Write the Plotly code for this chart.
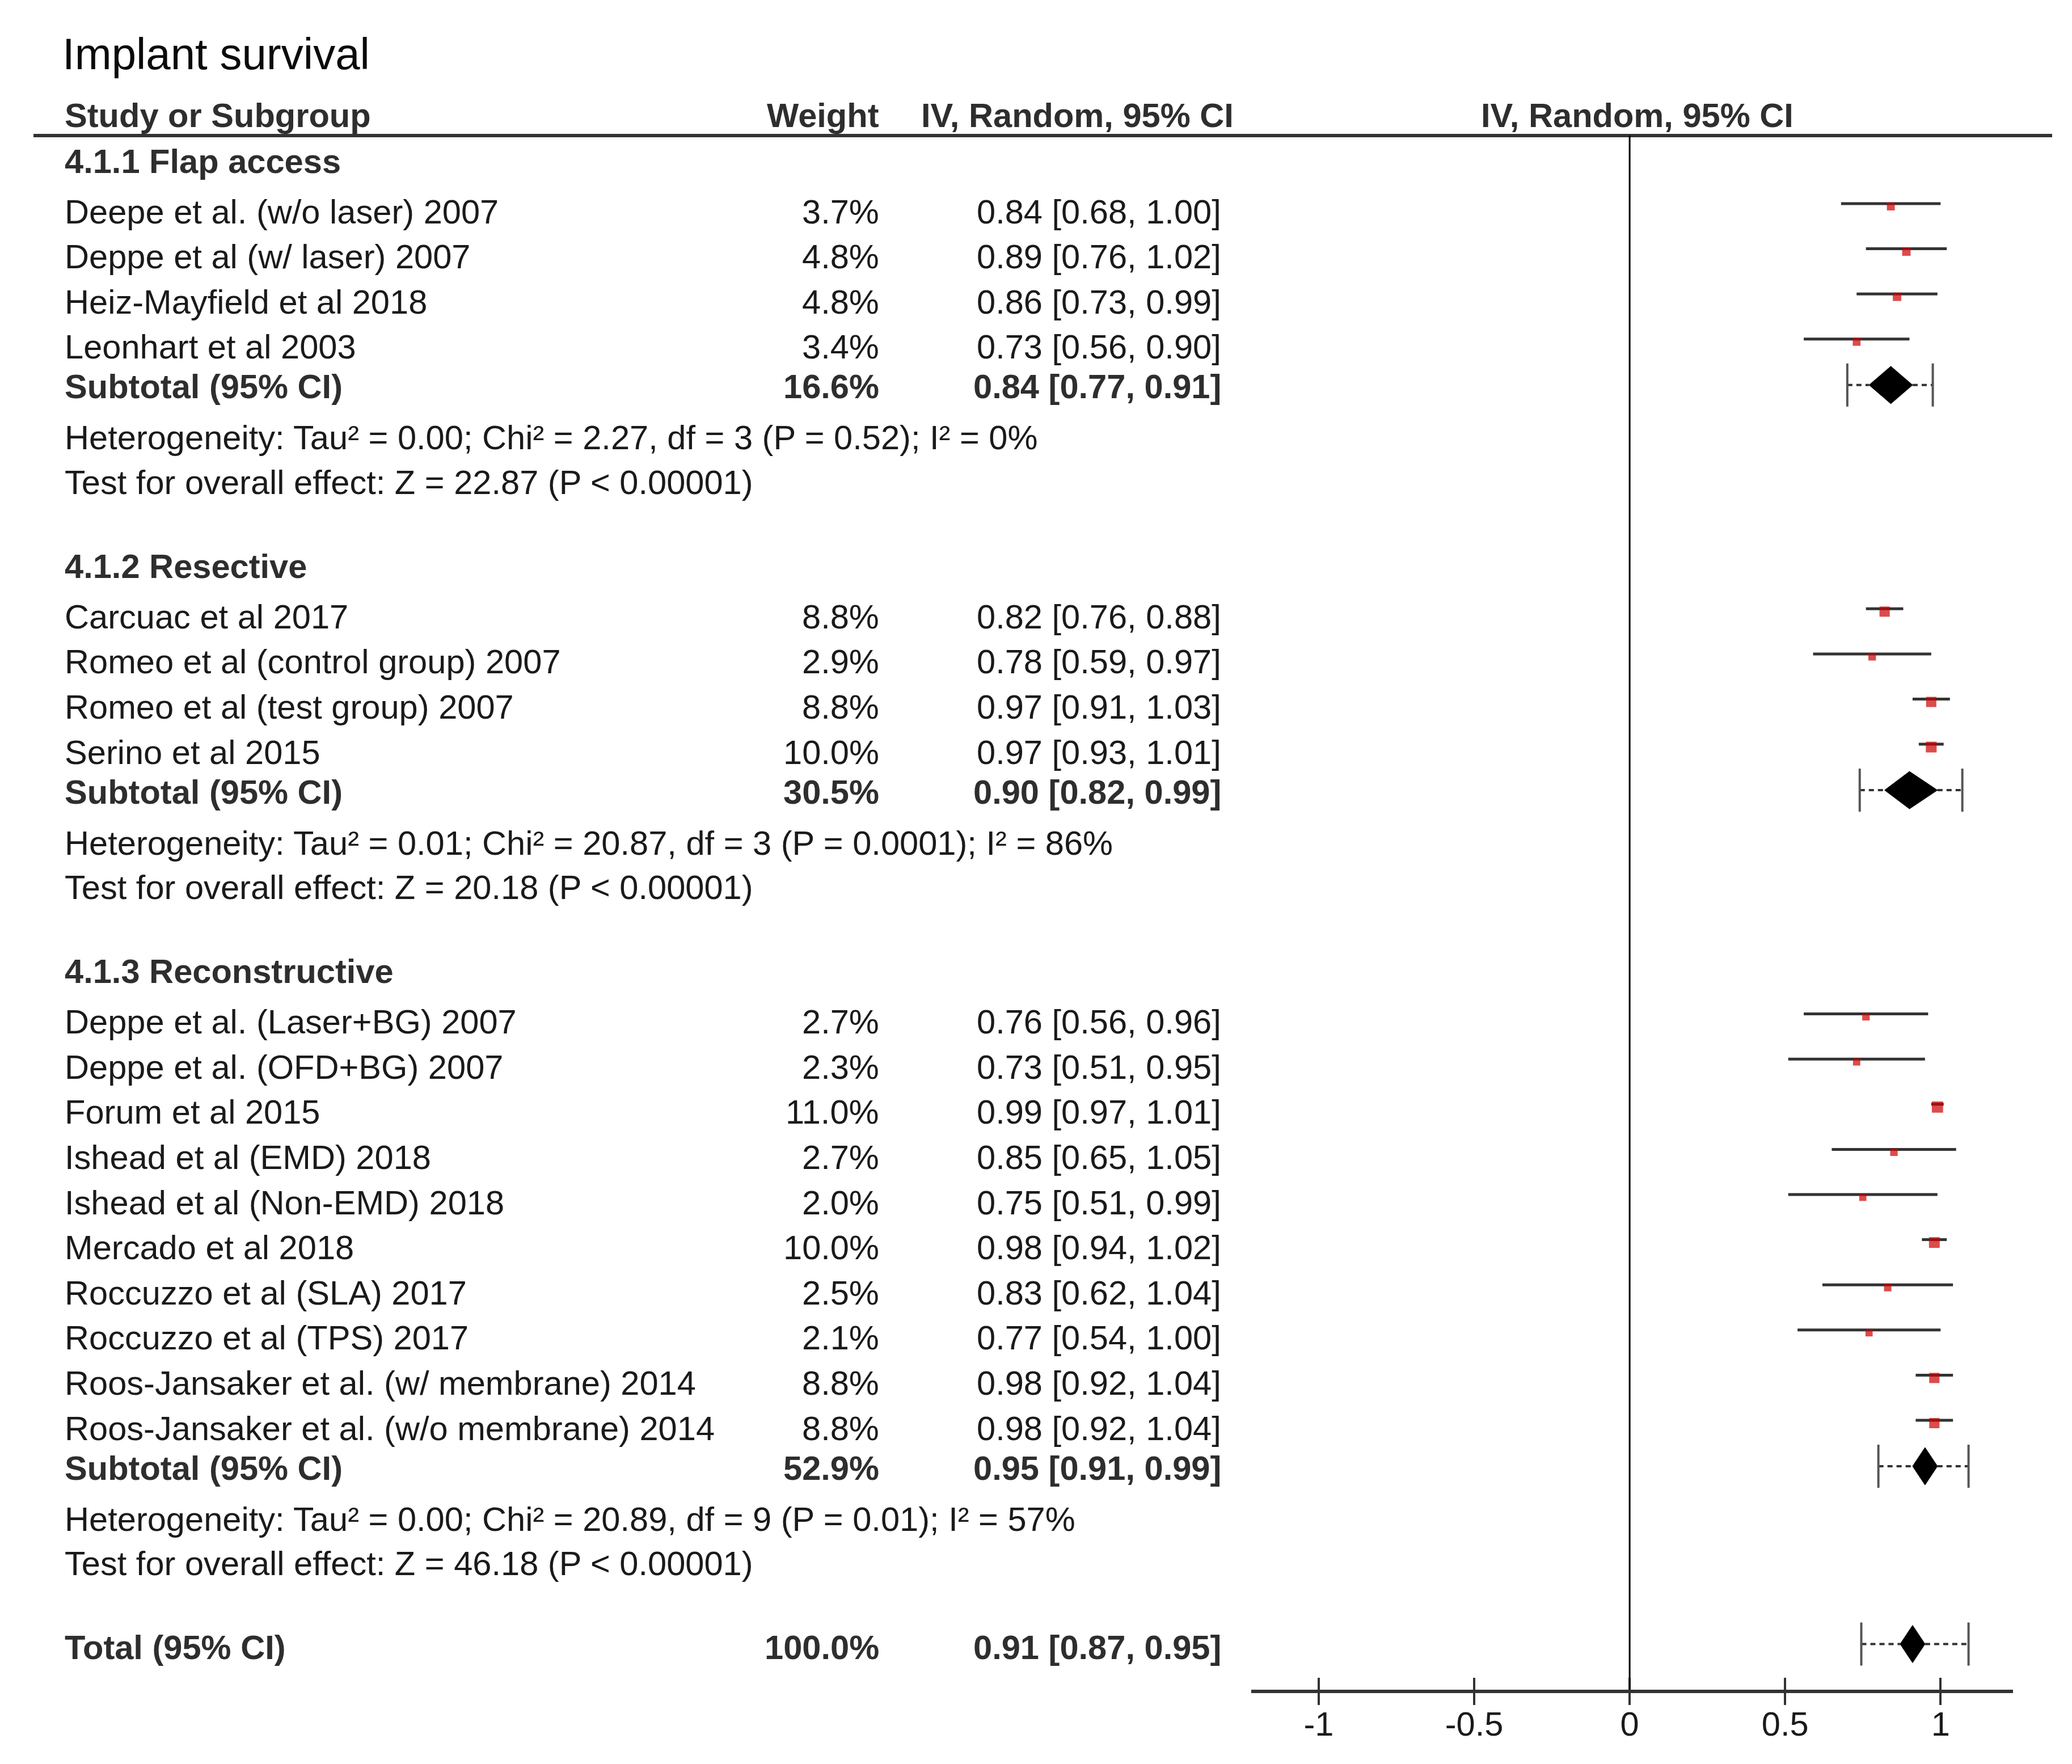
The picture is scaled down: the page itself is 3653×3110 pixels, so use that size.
import plotly.graph_objects as go

W, H = 3653, 3110

# ---------------- data ----------------
group_titles = ["4.1.1 Flap access", "4.1.2 Resective", "4.1.3 Reconstructive"]

study_names = [
    ["Deepe et al. (w/o laser) 2007", "Deppe et al (w/ laser) 2007",
     "Heiz-Mayfield et al 2018", "Leonhart et al 2003"],
    ["Carcuac et al 2017", "Romeo et al (control group) 2007",
     "Romeo et al (test group) 2007", "Serino et al 2015"],
    ["Deppe et al. (Laser+BG) 2007", "Deppe et al. (OFD+BG) 2007", "Forum et al 2015",
     "Ishead et al (EMD) 2018", "Ishead et al (Non-EMD) 2018", "Mercado et al 2018",
     "Roccuzzo et al (SLA) 2017", "Roccuzzo et al (TPS) 2017",
     "Roos-Jansaker et al. (w/ membrane) 2014", "Roos-Jansaker et al. (w/o membrane) 2014"],
]
study_weights = [
    [3.7, 4.8, 4.8, 3.4],
    [8.8, 2.9, 8.8, 10.0],
    [2.7, 2.3, 11.0, 2.7, 2.0, 10.0, 2.5, 2.1, 8.8, 8.8],
]
study_est = [
    [0.84, 0.89, 0.86, 0.73],
    [0.82, 0.78, 0.97, 0.97],
    [0.76, 0.73, 0.99, 0.85, 0.75, 0.98, 0.83, 0.77, 0.98, 0.98],
]
study_lo = [
    [0.68, 0.76, 0.73, 0.56],
    [0.76, 0.59, 0.91, 0.93],
    [0.56, 0.51, 0.97, 0.65, 0.51, 0.94, 0.62, 0.54, 0.92, 0.92],
]
study_hi = [
    [1.00, 1.02, 0.99, 0.90],
    [0.88, 0.97, 1.03, 1.01],
    [0.96, 0.95, 1.01, 1.05, 0.99, 1.02, 1.04, 1.00, 1.04, 1.04],
]

sub_weight = [16.6, 30.5, 52.9]
sub_est = [0.84, 0.90, 0.95]
sub_lo = [0.77, 0.82, 0.91]
sub_hi = [0.91, 0.99, 0.99]
sub_pi_lo = [0.70, 0.74, 0.80]
sub_pi_hi = [0.975, 1.07, 1.09]

het_text = [
    "Heterogeneity: Tau² = 0.00; Chi² = 2.27, df = 3 (P = 0.52); I² = 0%",
    "Heterogeneity: Tau² = 0.01; Chi² = 20.87, df = 3 (P = 0.0001); I² = 86%",
    "Heterogeneity: Tau² = 0.00; Chi² = 20.89, df = 9 (P = 0.01); I² = 57%",
]
test_text = [
    "Test for overall effect: Z = 22.87 (P < 0.00001)",
    "Test for overall effect: Z = 20.18 (P < 0.00001)",
    "Test for overall effect: Z = 46.18 (P < 0.00001)",
]

total_weight = 100.0
total_est, total_lo, total_hi = 0.91, 0.87, 0.95
total_pi_lo, total_pi_hi = 0.745, 1.09

tick_vals = [-1, -0.5, 0, 0.5, 1]
tick_text = ["-1", "-0.5", "0", "0.5", "1"]

# ---------------- layout constants (pixels) ----------------
FONT = "Liberation Sans"
FS = 59.6
TXT = "#1a1a1a"
BTXT = "#2e2e2e"
X_LABEL = 112
X_WEIGHT = 1552
X_CI = 2155
X_HEAD_CI = 1622
X_RIGHT_HEAD = 2886
Y_TITLE = 95
Y_HEAD = 203
Y_HLINE = 239
AXIS_Y = 2979
STUDY_OFF = -14      # CI line sits slightly above the text centre
SQ_DROP = 5          # squares hang slightly below the CI line
DIA_OFF = -3
DIA_H = 33
BAR_H = 38

fig = go.Figure()
ann = []


def add_text(txt, xpx, y, anchor="left", bold=False, size=FS, color=TXT):
    ann.append(dict(
        text=f"<b>{txt}</b>" if bold else txt,
        x=xpx / W, xref="paper", y=y, yref="y",
        xanchor=anchor, yanchor="middle", showarrow=False,
        font=dict(family=FONT, size=size, color=color),
    ))


def ci_str(e, l, h):
    return f"{e:.2f} [{l:.2f}, {h:.2f}]"


add_text("Implant survival", 108, Y_TITLE, size=78, color="#0a0a0a")
add_text("Study or Subgroup", X_LABEL, Y_HEAD, bold=True, color=BTXT)
add_text("Weight", X_WEIGHT, Y_HEAD, anchor="right", bold=True, color=BTXT)
add_text("IV, Random, 95% CI", X_HEAD_CI, Y_HEAD, bold=True, color=BTXT)
add_text("IV, Random, 95% CI", X_RIGHT_HEAD, Y_HEAD, anchor="center", bold=True, color=BTXT)

sx, sy, ssize, serr_p, serr_m = [], [], [], [], []
diamonds = []  # (y, est, lo, hi, pi_lo, pi_hi)

y = 284
for g in range(len(group_titles)):
    add_text(group_titles[g], X_LABEL, y, bold=True, color=BTXT)
    y += 89
    for i, name in enumerate(study_names[g]):
        add_text(name, X_LABEL, y)
        add_text(f"{study_weights[g][i]:.1f}%", X_WEIGHT, y, anchor="right")
        add_text(ci_str(study_est[g][i], study_lo[g][i], study_hi[g][i]), X_CI, y, anchor="right")
        sx.append(study_est[g][i])
        sy.append(y + STUDY_OFF)
        ssize.append(11 + 0.8 * study_weights[g][i])
        serr_p.append(study_hi[g][i] - study_est[g][i])
        serr_m.append(study_est[g][i] - study_lo[g][i])
        y += 79.6
    y += 70 - 79.6
    add_text("Subtotal (95% CI)", X_LABEL, y, bold=True, color=BTXT)
    add_text(f"{sub_weight[g]:.1f}%", X_WEIGHT, y, anchor="right", bold=True, color=BTXT)
    add_text(ci_str(sub_est[g], sub_lo[g], sub_hi[g]), X_CI, y, anchor="right", bold=True, color=BTXT)
    diamonds.append((y + DIA_OFF, sub_est[g], sub_lo[g], sub_hi[g], sub_pi_lo[g], sub_pi_hi[g]))
    y += 90
    add_text(het_text[g], X_LABEL, y)
    y += 78.5
    add_text(test_text[g], X_LABEL, y)
    y += 148

y_total = y
add_text("Total (95% CI)", X_LABEL, y_total, bold=True, color=BTXT)
add_text(f"{total_weight:.1f}%", X_WEIGHT, y_total, anchor="right", bold=True, color=BTXT)
add_text(ci_str(total_est, total_lo, total_hi), X_CI, y_total, anchor="right", bold=True, color=BTXT)
diamonds.append((y_total + DIA_OFF - 3, total_est, total_lo, total_hi, total_pi_lo, total_pi_hi))

# ---------------- traces ----------------
# prediction interval dashed lines + end bars
px, py, bx, by = [], [], [], []
for (yc, e, l, h, pl, ph) in diamonds:
    px += [pl, l, None, h, ph, None]
    py += [yc, yc, None, yc, yc, None]
    bx += [pl, pl, None, ph, ph, None]
    by += [yc - BAR_H, yc + BAR_H, None, yc - BAR_H, yc + BAR_H, None]

fig.add_trace(go.Scatter(x=px, y=py, mode="lines", hoverinfo="skip",
                         line=dict(color="#333333", width=4, dash="9px,7px")))
fig.add_trace(go.Scatter(x=bx, y=by, mode="lines", hoverinfo="skip",
                         line=dict(color="#555555", width=4)))

# diamonds
for (yc, e, l, h, pl, ph) in diamonds:
    fig.add_trace(go.Scatter(
        x=[l, e, h, e, l], y=[yc, yc - DIA_H, yc, yc + DIA_H, yc],
        mode="lines", fill="toself", fillcolor="black",
        line=dict(color="black", width=1), hoverinfo="skip"))

# studies: CI lines as error bars
fig.add_trace(go.Scatter(
    x=sx, y=sy, mode="markers", hoverinfo="skip",
    marker=dict(size=1, color="rgba(0,0,0,0)"),
    error_x=dict(type="data", symmetric=False, array=serr_p, arrayminus=serr_m,
                 color="#333333", thickness=5, width=0),
))
# red squares sized by weight
fig.add_trace(go.Scatter(
    x=sx, y=[v + SQ_DROP for v in sy], mode="markers", hoverinfo="skip",
    marker=dict(symbol="square", size=ssize, color="#cc0000", line=dict(width=0)),
))

# invisible trace on the overlay axis (inside tick half)
fig.add_trace(go.Scatter(x=tick_vals, y=[AXIS_Y] * len(tick_vals), xaxis="x2",
                         mode="markers", marker=dict(opacity=0), hoverinfo="skip"))

x_domain = [2206 / W, 3549 / W]
x_range = [-1.217, 1.233]

fig.update_layout(
    width=W, height=H,
    margin=dict(l=0, r=0, t=0, b=0),
    paper_bgcolor="white", plot_bgcolor="white",
    showlegend=False, hovermode=False,
    annotations=ann,
    xaxis=dict(domain=x_domain, range=x_range, showgrid=False, zeroline=False,
               showline=True, linecolor="#333333", linewidth=6,
               ticks="outside", ticklen=21, tickwidth=4, tickcolor="#333333",
               tickvals=tick_vals, ticktext=tick_text, ticklabelstandoff=-18,
               tickfont=dict(family=FONT, size=FS, color=TXT), fixedrange=True),
    xaxis2=dict(domain=x_domain, range=x_range, overlaying="x", anchor="y", side="bottom",
                showgrid=False, zeroline=False, showline=False,
                ticks="inside", ticklen=21, tickwidth=4, tickcolor="#333333",
                tickvals=tick_vals, showticklabels=False, fixedrange=True),
    yaxis=dict(domain=[1 - AXIS_Y / H, 1], range=[AXIS_Y, 0], visible=False, fixedrange=True),
    shapes=[
        dict(type="line", xref="paper", yref="y", x0=59 / W, x1=3618 / W,
             y0=Y_HLINE, y1=Y_HLINE, line=dict(color="#333333", width=6)),
        dict(type="line", xref="x", yref="y", x0=0, x1=0, y0=Y_HLINE, y1=AXIS_Y,
             line=dict(color="black", width=3)),
    ],
)

fig.write_html("out.html", config={"displayModeBar": False},
               post_script="document.body.style.margin='0';document.body.style.overflow='hidden';")
